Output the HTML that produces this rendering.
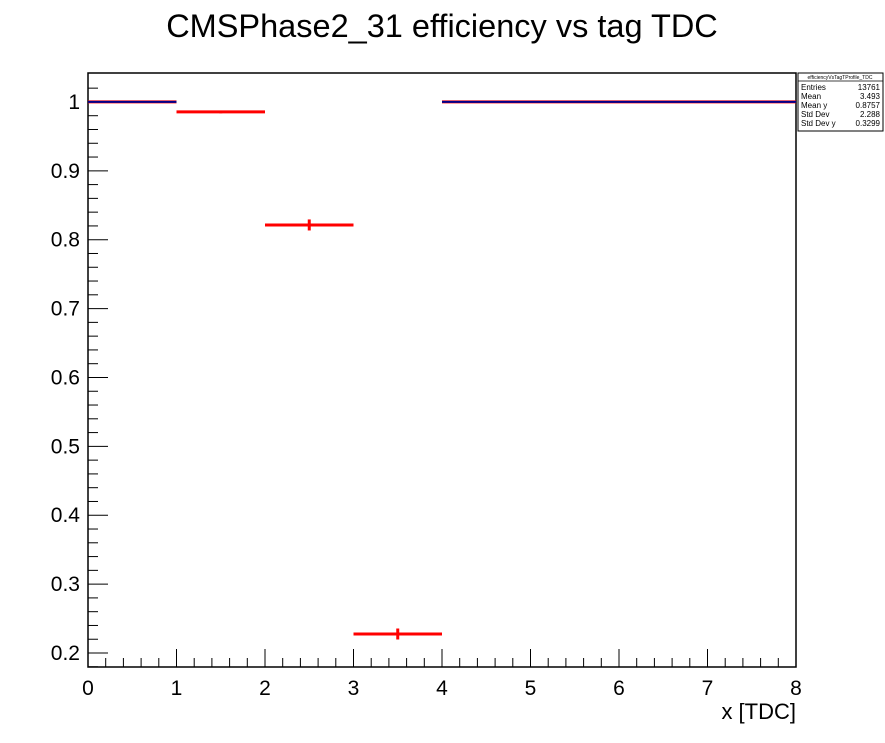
<!DOCTYPE html>
<html><head><meta charset="utf-8"><style>
html,body{margin:0;padding:0;background:#fff;}
svg{display:block;font-family:"Liberation Sans",Arial,sans-serif;}
</style></head><body>
<svg id="chart" width="885" height="743">
<text x="442" y="37" text-anchor="middle" font-size="32.5">CMSPhase2_31 efficiency vs tag TDC</text>
<rect x="88" y="73" width="708" height="594" fill="none" stroke="#000" stroke-width="1.5"/>
<g id="axes"></g>
<g id="marks"></g>
<text x="796" y="719" text-anchor="end" font-size="22">x [TDC]</text>
<g>
<rect x="798" y="73" width="85" height="58" fill="#fff" stroke="#000" stroke-width="1"/>
<line x1="798" y1="81" x2="883" y2="81" stroke="#000" stroke-width="0.8"/>
<text x="840" y="79" text-anchor="middle" font-size="5">efficiencyVsTagTProfile_TDC</text>
<g font-size="8">
<text x="801" y="90">Entries</text><text x="880" y="90" text-anchor="end">13761</text>
<text x="801" y="99">Mean</text><text x="880" y="99" text-anchor="end">3.493</text>
<text x="801" y="108">Mean y</text><text x="880" y="108" text-anchor="end">0.8757</text>
<text x="801" y="117">Std Dev</text><text x="880" y="117" text-anchor="end">2.288</text>
<text x="801" y="126">Std Dev y</text><text x="880" y="126" text-anchor="end">0.3299</text>
</g></g>
</svg>
<script>
const binLow = [0,1,2,3,4,5,6,7];
const binHigh = [1,2,3,4,5,6,7,8];
const effValues = [1.0,0.9855,0.8214,0.2276,1.0,1.0,1.0,1.0];
const effErrors = [0.0005,0.002,0.008,0.008,0,0,0,0];
const xTicks = [0,1,2,3,4,5,6,7,8];
const yTicks = [0.2,0.3,0.4,0.5,0.6,0.7,0.8,0.9,1];
const yTickLabels = ["0.2","0.3","0.4","0.5","0.6","0.7","0.8","0.9","1"];

const X0=88,X1=796,Y0=667,Y1=73,xmin=0,xmax=8,ymin=0.1797,ymax=1.042;
const xs=v=>X0+(v-xmin)/(xmax-xmin)*(X1-X0);
const ys=v=>Y0-(v-ymin)/(ymax-ymin)*(Y0-Y1);
const NS="http://www.w3.org/2000/svg";
function mk(tag,attrs,parent){const e=document.createElementNS(NS,tag);for(const k in attrs)e.setAttribute(k,attrs[k]);parent.appendChild(e);return e;}
const axes=document.getElementById('axes'),marks=document.getElementById('marks');
for(let v=0;v<=8.0001;v+=0.2){const major=Math.abs(v-Math.round(v))<1e-6;
 const t=mk('line',{x1:xs(v),x2:xs(v),y1:Y0,y2:Y0-(major?18:9),stroke:'#000','stroke-width':1},axes);
 
 }
xTicks.forEach(v=>{const t=mk('text',{x:xs(v),y:695,'text-anchor':'middle','font-size':21},axes);t.textContent=String(v);
 
 });
for(let v=0.18;v<=1.04;v+=0.02){const major=Math.abs(v*10-Math.round(v*10))<1e-6;
 const t=mk('line',{x1:X0,x2:X0+(major?20:10),y1:ys(v),y2:ys(v),stroke:'#000','stroke-width':1},axes);
 
 }
yTicks.forEach((v,i)=>{const t=mk('text',{x:80,y:ys(v)+7,'text-anchor':'end','font-size':21},axes);t.textContent=yTickLabels[i];
 
 });
effValues.forEach((v,i)=>{
 const xa=xs(binLow[i]),xb=xs(binHigh[i]),xc=(xa+xb)/2,y=ys(v);
 const h=mk('line',{x1:xa,x2:xb,y1:y,y2:y,stroke:'#f00','stroke-width':3},marks);
 
 
 const e=effErrors[i];
 if(e>0){const vv=mk('line',{x1:xc,x2:xc,y1:ys(v+e),y2:ys(v-e),stroke:'#f00','stroke-width':3},marks);
  
  }
 if(v>=0.9999){const b=mk('line',{x1:xa,x2:xb,y1:y,y2:y,stroke:'#00008b','stroke-width':2},marks);
  
  }
});
</script>
</body></html>
